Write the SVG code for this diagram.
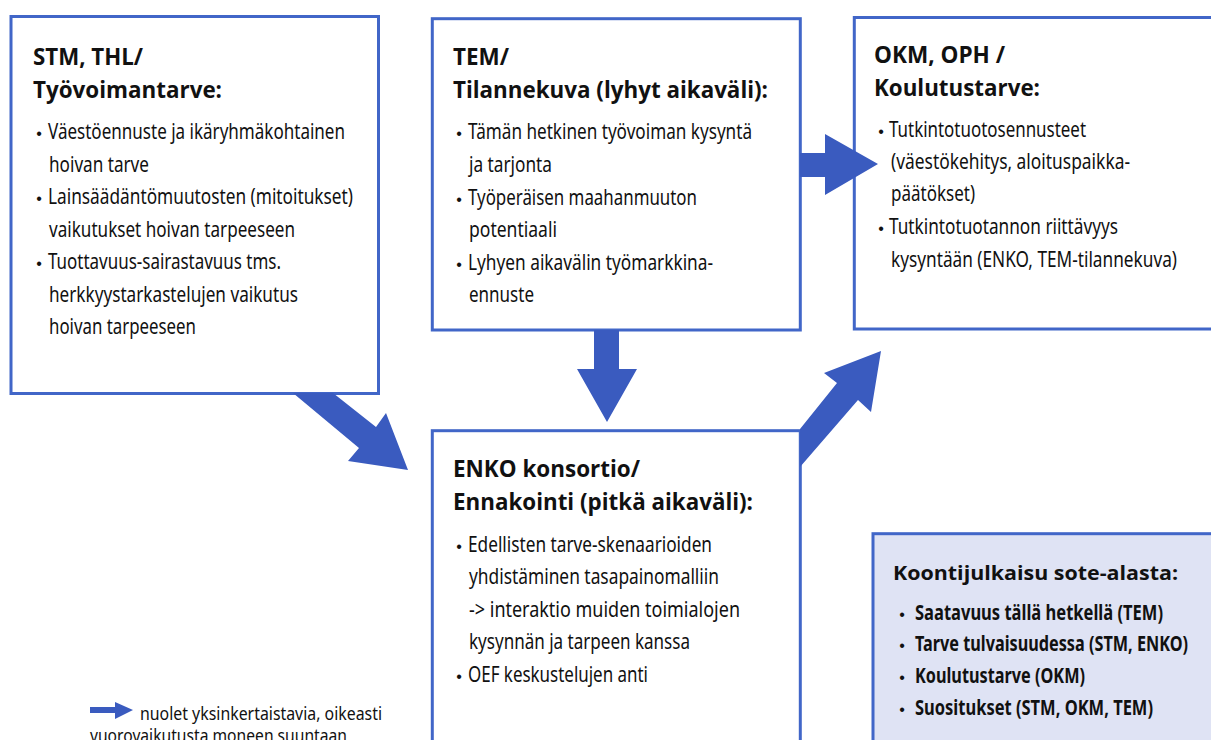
<svg xmlns="http://www.w3.org/2000/svg" width="1211" height="740" viewBox="0 0 1211 740">
<style>
.box{fill:#fff;stroke:#4166c8;stroke-width:3}
.box5{fill:#dfe3f4;stroke:#4166c8;stroke-width:3}
.arr{fill:#3a5bbf;stroke:none}
.h{font-family:"Open Sans","Liberation Sans",sans-serif;font-weight:700;font-size:23.5px;fill:#111}
.h5{font-family:"Open Sans","Liberation Sans",sans-serif;font-weight:700;font-size:20px;fill:#111}
.b{font-family:"Noto Sans","DejaVu Sans Condensed",sans-serif;font-size:18.5px;fill:#111}
.bb{font-family:"Noto Sans","DejaVu Sans Condensed",sans-serif;font-size:17px;font-weight:700;fill:#111}
.lg{font-family:"Noto Sans","DejaVu Sans Condensed",sans-serif;font-size:17.5px;fill:#111}
.dot{font-family:"Liberation Sans",sans-serif;font-size:16px;fill:#111;text-anchor:middle}
</style>
<rect width="1211" height="740" fill="#fff"/>

<g id="node-stm">
<rect class="box" x="11" y="16.5" width="367.5" height="377"/>
<text class="h" x="33" y="65" textLength="110" lengthAdjust="spacingAndGlyphs">STM, THL/</text>
<text class="h" x="33" y="98" textLength="189" lengthAdjust="spacingAndGlyphs">Työvoimantarve:</text>
<text class="dot" x="39" y="139">•</text>
<text class="b" transform="translate(48 139) scale(1 1.2)" textLength="297" lengthAdjust="spacingAndGlyphs">Väestöennuste ja ikäryhmäkohtainen</text>
<text class="b" transform="translate(49 172) scale(1 1.2)" textLength="100" lengthAdjust="spacingAndGlyphs">hoivan tarve</text>
<text class="dot" x="39" y="204">•</text>
<text class="b" transform="translate(48 204) scale(1 1.2)" textLength="305" lengthAdjust="spacingAndGlyphs">Lainsäädäntömuutosten (mitoitukset)</text>
<text class="b" transform="translate(49 237) scale(1 1.2)" textLength="246" lengthAdjust="spacingAndGlyphs">vaikutukset hoivan tarpeeseen</text>
<text class="dot" x="39" y="269">•</text>
<text class="b" transform="translate(48 269) scale(1 1.2)" textLength="233" lengthAdjust="spacingAndGlyphs">Tuottavuus-sairastavuus tms.</text>
<text class="b" transform="translate(49 302) scale(1 1.2)" textLength="249" lengthAdjust="spacingAndGlyphs">herkkyystarkastelujen vaikutus</text>
<text class="b" transform="translate(49 334) scale(1 1.2)" textLength="147" lengthAdjust="spacingAndGlyphs">hoivan tarpeeseen</text>
</g>

<g id="node-tem">
<rect class="box" x="432.3" y="18.7" width="368" height="311.3"/>
<text class="h" x="453" y="65" textLength="56" lengthAdjust="spacingAndGlyphs">TEM/</text>
<text class="h" x="453" y="98" textLength="315" lengthAdjust="spacingAndGlyphs">Tilannekuva (lyhyt aikaväli):</text>
<text class="dot" x="459" y="139">•</text>
<text class="b" transform="translate(468 139) scale(1 1.2)" textLength="284" lengthAdjust="spacingAndGlyphs">Tämän hetkinen työvoiman kysyntä</text>
<text class="b" transform="translate(469 172) scale(1 1.2)" textLength="83" lengthAdjust="spacingAndGlyphs">ja tarjonta</text>
<text class="dot" x="459" y="205">•</text>
<text class="b" transform="translate(468 205) scale(1 1.2)" textLength="229" lengthAdjust="spacingAndGlyphs">Työperäisen maahanmuuton</text>
<text class="b" transform="translate(469 237) scale(1 1.2)" textLength="88" lengthAdjust="spacingAndGlyphs">potentiaali</text>
<text class="dot" x="459" y="270">•</text>
<text class="b" transform="translate(468 270) scale(1 1.2)" textLength="245" lengthAdjust="spacingAndGlyphs">Lyhyen aikavälin työmarkkina-</text>
<text class="b" transform="translate(469 302) scale(1 1.2)" textLength="65" lengthAdjust="spacingAndGlyphs">ennuste</text>
</g>

<g id="node-okm">
<rect class="box" x="854.3" y="17.5" width="370" height="311.5"/>
<text class="h" x="874" y="63" textLength="131" lengthAdjust="spacingAndGlyphs">OKM, OPH /</text>
<text class="h" x="874" y="96" textLength="166" lengthAdjust="spacingAndGlyphs">Koulutustarve:</text>
<text class="dot" x="881" y="137">•</text>
<text class="b" transform="translate(889 137) scale(1 1.2)" textLength="197" lengthAdjust="spacingAndGlyphs">Tutkintotuotosennusteet</text>
<text class="b" transform="translate(891 169) scale(1 1.2)" textLength="239" lengthAdjust="spacingAndGlyphs">(väestökehitys, aloituspaikka-</text>
<text class="b" transform="translate(891 201) scale(1 1.2)" textLength="84" lengthAdjust="spacingAndGlyphs">päätökset)</text>
<text class="dot" x="881" y="234">•</text>
<text class="b" transform="translate(889 234) scale(1 1.2)" textLength="229" lengthAdjust="spacingAndGlyphs">Tutkintotuotannon riittävyys</text>
<text class="b" transform="translate(891 267) scale(1 1.2)" textLength="286" lengthAdjust="spacingAndGlyphs">kysyntään (ENKO, TEM-tilannekuva)</text>
</g>

<g id="node-enko">
<rect class="box" x="432.3" y="430.7" width="368" height="330"/>
<text class="h" x="453" y="477" textLength="187" lengthAdjust="spacingAndGlyphs">ENKO konsortio/</text>
<text class="h" x="453" y="510" textLength="300" lengthAdjust="spacingAndGlyphs">Ennakointi (pitkä aikaväli):</text>
<text class="dot" x="459" y="552">•</text>
<text class="b" transform="translate(468 552) scale(1 1.2)" textLength="244" lengthAdjust="spacingAndGlyphs">Edellisten tarve-skenaarioiden</text>
<text class="b" transform="translate(469 584) scale(1 1.2)" textLength="250" lengthAdjust="spacingAndGlyphs">yhdistäminen tasapainomalliin</text>
<text class="b" transform="translate(469 617) scale(1 1.2)" textLength="271" lengthAdjust="spacingAndGlyphs">-&gt;  interaktio muiden toimialojen</text>
<text class="b" transform="translate(469 649) scale(1 1.2)" textLength="221" lengthAdjust="spacingAndGlyphs">kysynnän ja tarpeen kanssa</text>
<text class="dot" x="459" y="682">•</text>
<text class="b" transform="translate(468 682) scale(1 1.2)" textLength="180" lengthAdjust="spacingAndGlyphs">OEF keskustelujen anti</text>
</g>

<g id="node-koonti">
<rect class="box5" x="873" y="533.7" width="350" height="230"/>
<text class="h5" x="893" y="580" textLength="285" lengthAdjust="spacingAndGlyphs">Koontijulkaisu sote-alasta:</text>
<text class="dot" x="902" y="620">•</text>
<text class="bb" transform="translate(915 620) scale(1 1.26)" textLength="248" lengthAdjust="spacingAndGlyphs">Saatavuus tällä hetkellä (TEM)</text>
<text class="dot" x="902" y="651">•</text>
<text class="bb" transform="translate(915 651) scale(1 1.26)" textLength="273" lengthAdjust="spacingAndGlyphs">Tarve tulvaisuudessa (STM, ENKO)</text>
<text class="dot" x="902" y="683">•</text>
<text class="bb" transform="translate(915 683) scale(1 1.26)" textLength="170" lengthAdjust="spacingAndGlyphs">Koulutustarve (OKM)</text>
<text class="dot" x="902" y="715">•</text>
<text class="bb" transform="translate(915 715) scale(1 1.26)" textLength="238" lengthAdjust="spacingAndGlyphs">Suositukset (STM, OKM, TEM)</text>
</g>

<g id="connectors">
<polygon class="arr" points="800,153 825,153 825,134 878,164 825,195 825,177 800,177"/>
<polygon class="arr" points="594,330 619,330 619,369 637,369 607,422 577,369 594,369"/>
<polygon class="arr" points="293,393 359,448 348,461 408,470 386,413 376,427 333,393"/>
<polygon class="arr" points="800,429 837,383 824,373 881,351 871,412 858,400 800,467"/>
</g>

<g id="legend">
<polygon class="arr" points="90,707 115,707 115,702 133,710 115,719 115,713 90,713"/>
<text class="lg" x="140" y="720" textLength="242" lengthAdjust="spacingAndGlyphs">nuolet yksinkertaistavia, oikeasti</text>
<text class="lg" x="90" y="742" textLength="257" lengthAdjust="spacingAndGlyphs">vuorovaikutusta moneen suuntaan</text>
</g>
</svg>
